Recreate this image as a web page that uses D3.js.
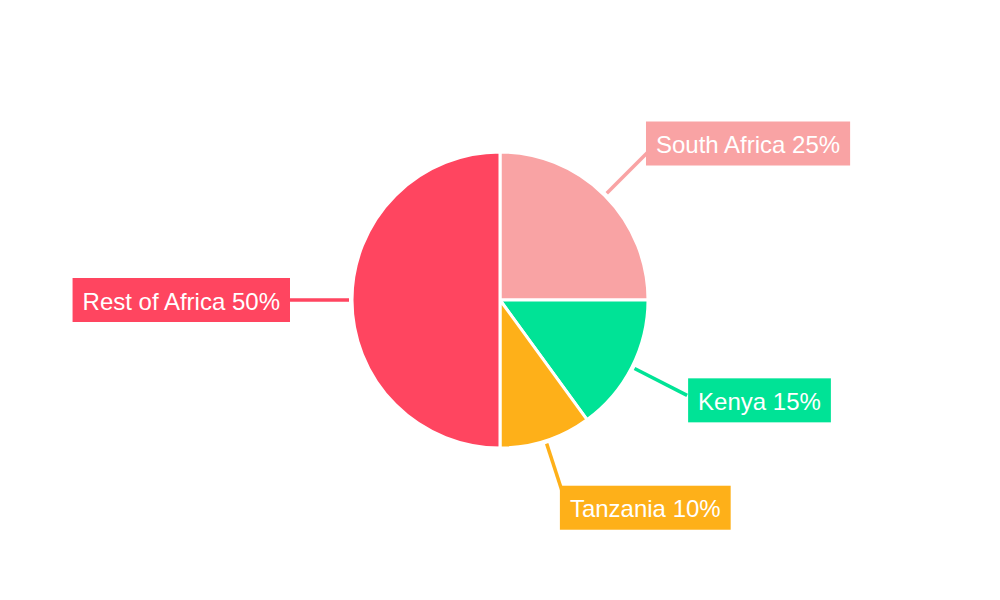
<!DOCTYPE html>
<html>
<head>
<meta charset="utf-8">
<script src="https://cdn.jsdelivr.net/npm/d3@7"></script>
<style>
  html, body { margin: 0; padding: 0; background: #fff; }
  svg { display: block; font-family: "Liberation Sans", Arial, Helvetica, sans-serif; }
</style>
</head>
<body>
<svg id="chart" width="1000" height="600"></svg>
<script>
const categories = ["South Africa", "Kenya", "Tanzania", "Rest of Africa"];
const values = [25, 15, 10, 50];
const colors = ["#F9A3A4", "#00E396", "#FEB019", "#FF4560"];
// label box nudges (layout only)
const labelDx = [-2.5, 1, -5, 0];
const labelDy = [-8, 5, 8, 0];

const W = 1000, H = 600;
const cx = 500, cy = 300, R = 148;
const lineStartR = 151, lineEndR = 210;

const svg = d3.select("#chart");
const g = svg.append("g").attr("transform", `translate(${cx},${cy})`);

const total = d3.sum(values);
const data = categories.map((c, i) => ({ name: c, value: values[i], color: colors[i], i }));
const pie = d3.pie().sort(null).value(d => d.value);
const arcs = pie(data);
const arc = d3.arc().innerRadius(0).outerRadius(R);

g.selectAll("path.slice").data(arcs).join("path")
  .attr("class", "slice")
  .attr("d", arc)
  .attr("fill", d => d.data.color)
  .attr("stroke", "#fff")
  .attr("stroke-width", 3)
  .attr("stroke-linejoin", "round");

function pt(r, a) { return [r * Math.sin(a), -r * Math.cos(a)]; }

// leader lines
g.selectAll("line.leader").data(arcs).join("line")
  .attr("class", "leader")
  .each(function(d) {
    const a = (d.startAngle + d.endAngle) / 2;
    const p0 = pt(lineStartR, a), p1 = pt(lineEndR, a);
    d3.select(this).attr("x1", p0[0]).attr("y1", p0[1]).attr("x2", p1[0]).attr("y2", p1[1]);
  })
  .attr("stroke", d => d.data.color)
  .attr("stroke-width", 3.5);

// labels
const fmt = d => `${d.data.name} ${Math.round(d.data.value / total * 100)}%`;
const lab = g.selectAll("g.label").data(arcs).join("g").attr("class", "label");
const padX = 10, boxH = 44;
lab.each(function(d) {
  const sel = d3.select(this);
  const a = (d.startAngle + d.endAngle) / 2;
  const p = pt(lineEndR, a);
  const rect = sel.append("rect").attr("fill", d.data.color);
  const text = sel.append("text")
    .attr("fill", "#fff")
    .attr("font-size", 24)
    .attr("dominant-baseline", "central")
    .text(fmt(d));
  const tw = text.node().getComputedTextLength();
  const bw = tw + padX * 2;
  const right = a < Math.PI;
  const x0 = (right ? p[0] : p[0] - bw) + labelDx[d.data.i];
  const yc = p[1] + labelDy[d.data.i];
  rect.attr("x", x0).attr("y", yc - boxH / 2).attr("width", bw).attr("height", boxH);
  text.attr("x", x0 + padX).attr("y", yc + 1);
});
</script>
</body>
</html>
